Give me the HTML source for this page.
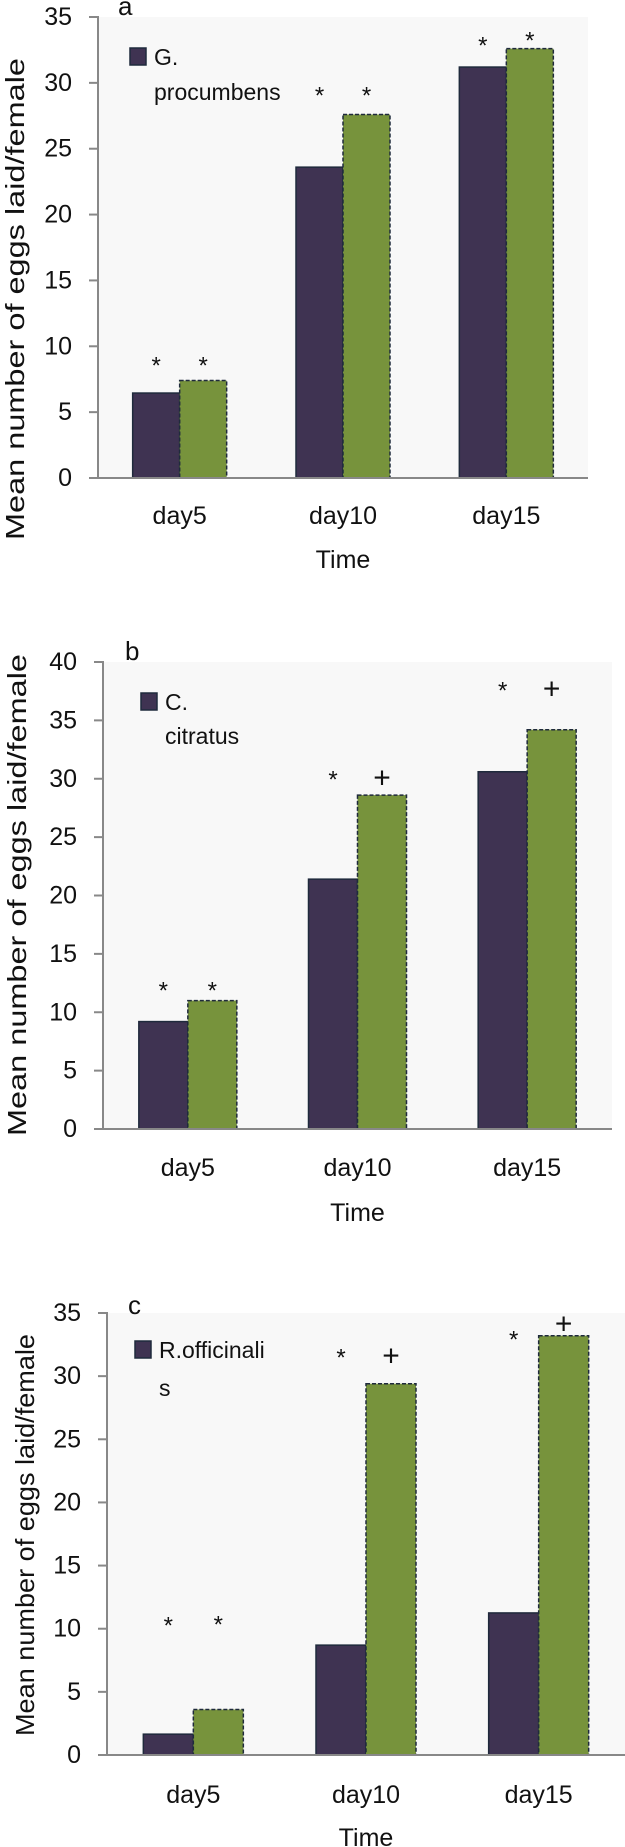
<!DOCTYPE html>
<html><head><meta charset="utf-8"><style>
html,body{margin:0;padding:0;background:#fff;}
svg{display:block;font-family:"Liberation Sans",sans-serif;}
</style></head><body>
<svg id="fig" width="625" height="1847" viewBox="0 0 625 1847" xmlns="http://www.w3.org/2000/svg"></svg>
<script>
const categories = ["day5","day10","day15"];
const aDark = [6.45, 23.6, 31.2];
const aGreen = [7.4, 27.6, 32.6];
const aDarkMarks = ["*","*","*"];
const aGreenMarks = ["*","*","*"];
const aTicks = [0,5,10,15,20,25,30,35];
const bDark = [9.2, 21.4, 30.6];
const bGreen = [11, 28.6, 34.2];
const bDarkMarks = ["*","*","*"];
const bGreenMarks = ["*","+","+"];
const bTicks = [0,5,10,15,20,25,30,35,40];
const cDark = [1.65, 8.7, 11.25];
const cGreen = [3.6, 29.4, 33.2];
const cDarkMarks = ["*","*","*"];
const cGreenMarks = ["*","+","+"];
const cTicks = [0,5,10,15,20,25,30,35];

const NS = "http://www.w3.org/2000/svg";
const svg = document.getElementById("fig");
function mk(tag, attrs, parent, txt){
  const e = document.createElementNS(NS, tag);
  for (const k in attrs) e.setAttribute(k, attrs[k]);
  if (txt !== undefined) e.textContent = txt;
  (parent || svg).appendChild(e);
  return e;
}

function panel(cfg){
  const g = mk("g", {});
  
  
  const ymax = cfg.ticks[cfg.ticks.length-1];
  const yS = v => cfg.y0 - (cfg.y0 - cfg.yTop) * v / ymax;
  const cw = (cfg.right - cfg.x0) / categories.length;
  const xC = i => cfg.x0 + cw * (i + 0.5);
  const bw = cfg.bw;

  const bg = mk("rect", {x:cfg.x0, y:cfg.yTop, width:cfg.right-cfg.x0, height:cfg.y0-cfg.yTop, fill:"#f8f8f8"}, g);
  
  

  const yt = mk("text", {x:cfg.titleX, y:cfg.titleY, "font-size":26, fill:"#111", "text-anchor":"middle", "dominant-baseline":"central",
    transform:`rotate(-90 ${cfg.titleX} ${cfg.titleY})`, textLength:cfg.titleLen, lengthAdjust:"spacingAndGlyphs"}, g, "Mean number of eggs laid/female");
  
  

  cfg.ticks.forEach(t => {
    const y = yS(t);
    const tk = mk("line", {x1:cfg.x0-9, x2:cfg.x0, y1:y, y2:y, stroke:"#888", "stroke-width":2}, g);
    
    
    const tl = mk("text", {x:cfg.x0-26, y:y, "font-size":25, fill:"#111", "text-anchor":"end", "dominant-baseline":"central"}, g, String(t));
    
    
  });

  categories.forEach((c, i) => {
    const xc = xC(i);
    const d = cfg.dark[i], gr = cfg.green[i];
    const b1 = mk("rect", {x:xc-bw, y:yS(d), width:bw, height:cfg.y0-yS(d), fill:"#3f3352", stroke:"#1f2a3c", "stroke-width":1.5}, g);
    
    
    const b2 = mk("rect", {x:xc, y:yS(gr), width:bw, height:cfg.y0-yS(gr), fill:"#77933c", stroke:"#1f2a3c", "stroke-width":1.5, "stroke-dasharray":"4 2"}, g);
    
    
    const m1 = mk("text", {x:xc-bw/2, y:cfg.markY[i][0], "font-size":24, fill:"#111", "text-anchor":"middle", "dominant-baseline":"central"}, g, cfg.dm[i]);
    
    
    const m2 = mk("text", {x:xc+bw/2, y:cfg.markY[i][1], "font-size":cfg.gm[i]==="+"?30:24, fill:"#111", "text-anchor":"middle", "dominant-baseline":"central"}, g, cfg.gm[i]);
    
    
    const xl = mk("text", {x:xc, y:cfg.labY, "font-size":25, fill:"#111", "text-anchor":"middle", "dominant-baseline":"central"}, g, c);
    
    
  });

  const ax = mk("line", {x1:cfg.x0, x2:cfg.x0, y1:cfg.yTop-1, y2:cfg.y0, stroke:"#888", "stroke-width":2}, g);
  
  
  const xa = mk("line", {x1:cfg.x0-9, x2:cfg.right, y1:cfg.y0, y2:cfg.y0, stroke:"#888", "stroke-width":2}, g);
  
  

  const tt = mk("text", {x:(cfg.x0+cfg.right)/2, y:cfg.timeY, "font-size":25, fill:"#111", "text-anchor":"middle", "dominant-baseline":"central"}, g, "Time");
  
  

  const pl = mk("text", {x:cfg.letX, y:cfg.letY, "font-size":26, fill:"#111", "dominant-baseline":"central"}, g, cfg.id);
  
  

  const lg = mk("g", {}, g);
  
  
  mk("rect", {x:cfg.legX, y:cfg.legY, width:16, height:17, fill:"#3f3352", stroke:"#1f2a3c", "stroke-width":1.5}, lg);
  cfg.legText.forEach((t, k) => {
    mk("text", {x:cfg.legX+24, y:cfg.legY+9+k*cfg.legGap, "font-size":23, fill:"#111", "dominant-baseline":"central"}, lg, t);
  });
}

panel({id:"a", x0:98, right:588, yTop:17, y0:478, bw:47, ticks:aTicks, dark:aDark, green:aGreen, dm:aDarkMarks, gm:aGreenMarks,
  markY:[[366,366],[96,96],[46,41]], labY:516, timeY:560, titleX:15, titleY:299, titleLen:482,
  letX:118, letY:6, legX:130, legY:48, legText:["G.","procumbens"], legGap:35});
panel({id:"b", x0:103, right:612, yTop:662, y0:1129, bw:49, ticks:bTicks, dark:bDark, green:bGreen, dm:bDarkMarks, gm:bGreenMarks,
  markY:[[991,991],[780,778],[691,689]], labY:1168, timeY:1213, titleX:17, titleY:895, titleLen:482,
  letX:125, letY:651, legX:141, legY:693, legText:["C.","citratus"], legGap:34});
panel({id:"c", x0:107, right:625, yTop:1313, y0:1755, bw:50, ticks:cTicks, dark:cDark, green:cGreen, dm:cDarkMarks, gm:cGreenMarks,
  markY:[[1626,1625],[1358,1356],[1340,1324]], labY:1795, timeY:1838, titleX:25, titleY:1535, titleLen:402,
  letX:128, letY:1305, legX:135, legY:1341, legText:["R.officinali","s"], legGap:38});
</script>
</body></html>
